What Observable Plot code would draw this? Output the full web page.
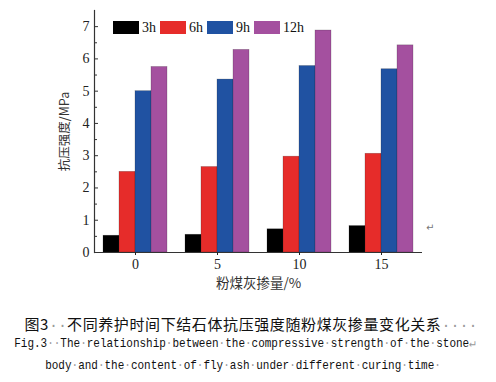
<!DOCTYPE html>
<html><head><meta charset="utf-8">
<script src="https://cdn.jsdelivr.net/npm/d3@7"></script>
<script src="https://cdn.jsdelivr.net/npm/@observablehq/plot@0.6"></script>
<style>
body{margin:0;background:#fff;}
#wrap{position:relative;width:496px;height:382px;overflow:hidden;background:#fff;}
#chart{position:absolute;left:0;top:0;}
#legend{position:absolute;left:113px;top:11px;}
#legend [class$="-swatch"]{margin-right:4px !important;}
#legend [class$="-swatch"] > svg{margin-right:3px !important;}
.cap{position:absolute;white-space:nowrap;color:#111;transform-origin:center;}
.cap1{top:314px;left:251px;transform:translateX(-50%);font-family:"Noto Sans CJK SC",sans-serif;font-size:15px;letter-spacing:0.6px;line-height:20px;}
.cap1 .dot{font-family:"Liberation Mono",monospace;letter-spacing:0;}
.mono{font-family:"Liberation Mono",monospace;font-size:13px;line-height:18px;}
.cap2{top:335px;left:245px;transform:translateX(-50%) scaleX(0.845);}
.cap3{top:357px;left:243px;transform:translateX(-50%) scaleX(0.845);}
.dot{color:#9a9a9a;}
#pm{position:absolute;left:426px;top:222px;font-family:"DejaVu Sans",sans-serif;font-size:10px;color:#777;}
</style></head><body><div id="wrap"><div id="chart"></div><div id="legend"></div>
<div class="cap cap1">图3<span class="dot">··</span>不同养护时间下结石体抗压强度随粉煤灰掺量变化关系<span class="dot">····</span></div>
<div class="cap mono cap2">Fig.3<span class="dot">··</span>The<span class="dot">·</span>relationship<span class="dot">·</span>between<span class="dot">·</span>the<span class="dot">·</span>compressive<span class="dot">·</span>strength<span class="dot">·</span>of<span class="dot">·</span>the<span class="dot">·</span>stone<span class="dot">↵</span></div>
<div class="cap mono cap3">body<span class="dot">·</span>and<span class="dot">·</span>the<span class="dot">·</span>content<span class="dot">·</span>of<span class="dot">·</span>fly<span class="dot">·</span>ash<span class="dot">·</span>under<span class="dot">·</span>different<span class="dot">·</span>curing<span class="dot">·</span>time<span class="dot">·</span></div>
<div id="pm">↵</div>
</div>
<script>
const contents = [0, 5, 10, 15];
const times = ["3h", "6h", "9h", "12h"];
const s3h = [0.52, 0.55, 0.72, 0.82];
const s6h = [2.50, 2.65, 2.97, 3.06];
const s9h = [5.00, 5.36, 5.78, 5.68];
const s12h = [5.75, 6.28, 6.88, 6.42];
const colors = ["#000000", "#e62c2a", "#2052a2", "#a4509f"];
const yTicks = [0, 1, 2, 3, 4, 5, 6, 7];
const yMinorTicks = [0.5, 1.5, 2.5, 3.5, 4.5, 5.5, 6.5];
const xLabel = "粉煤灰掺量/%";
const yLabel = "抗压强度/MPa";

const series = [s3h, s6h, s9h, s12h];
const data = contents.flatMap((c, i) => times.map((t, j) => ({content: c, time: t, value: series[j][i]})));
const serif = "Liberation Serif, Times New Roman, serif";
const cjk = "Noto Sans CJK SC, sans-serif";

const chart = Plot.plot({
  width: 496, height: 300,
  marginLeft: 94, marginRight: 74, marginTop: 10, marginBottom: 48,
  style: {fontFamily: serif, fontSize: "14px", color: "#222", background: "#fff"},
  fx: {domain: contents, padding: 0},
  x: {domain: times, paddingInner: 0, paddingOuter: 0.49, axis: null},
  y: {domain: [0, 7.5]},
  color: {domain: times, range: colors},
  marks: [
    Plot.barY(data, {fx: "content", x: "time", y: "value", fill: "time", stroke: "#222", strokeOpacity: 0.35, strokeWidth: 0.6}),
    Plot.ruleY([0], {stroke: "#333", strokeWidth: 1.2}),
    Plot.frame({anchor: "left", facetAnchor: "left", stroke: "#333", strokeWidth: 1.2}),
    Plot.axisY({ticks: yTicks, tickSize: -4, text: null, label: null, stroke: "#333"}),
    Plot.axisY({ticks: yMinorTicks, tickSize: -3, text: null, label: null, stroke: "#333"}),
    Plot.axisY({ticks: yTicks, tickSize: 0, tickPadding: 5, fontSize: 14, fontFamily: serif, fill: "#222", label: null}),
    Plot.axisY({ticks: [], tickSize: 0, fontSize: 12.5, fontFamily: cjk, fill: "#333",
      label: yLabel, labelAnchor: "center", labelOffset: 34, labelArrow: "none"}),
    Plot.axisFx({anchor: "bottom", tickSize: 3, tickPadding: 4, fontSize: 14, fontFamily: serif, fill: "#222", label: null}),
    Plot.axisFx({anchor: "bottom", ticks: [], tickSize: 0, fontSize: 13.5, fontFamily: cjk, fill: "#333",
      label: xLabel, labelAnchor: "center", labelOffset: 35, labelArrow: "none"})
  ]
});
document.getElementById("chart").appendChild(chart);

const legend = Plot.legend({
  color: {domain: times, range: colors},
  swatchWidth: 26, swatchHeight: 13,
  style: {fontFamily: serif, fontSize: "14px", color: "#111", background: "transparent"}
});
document.getElementById("legend").appendChild(legend);
</script></body></html>
